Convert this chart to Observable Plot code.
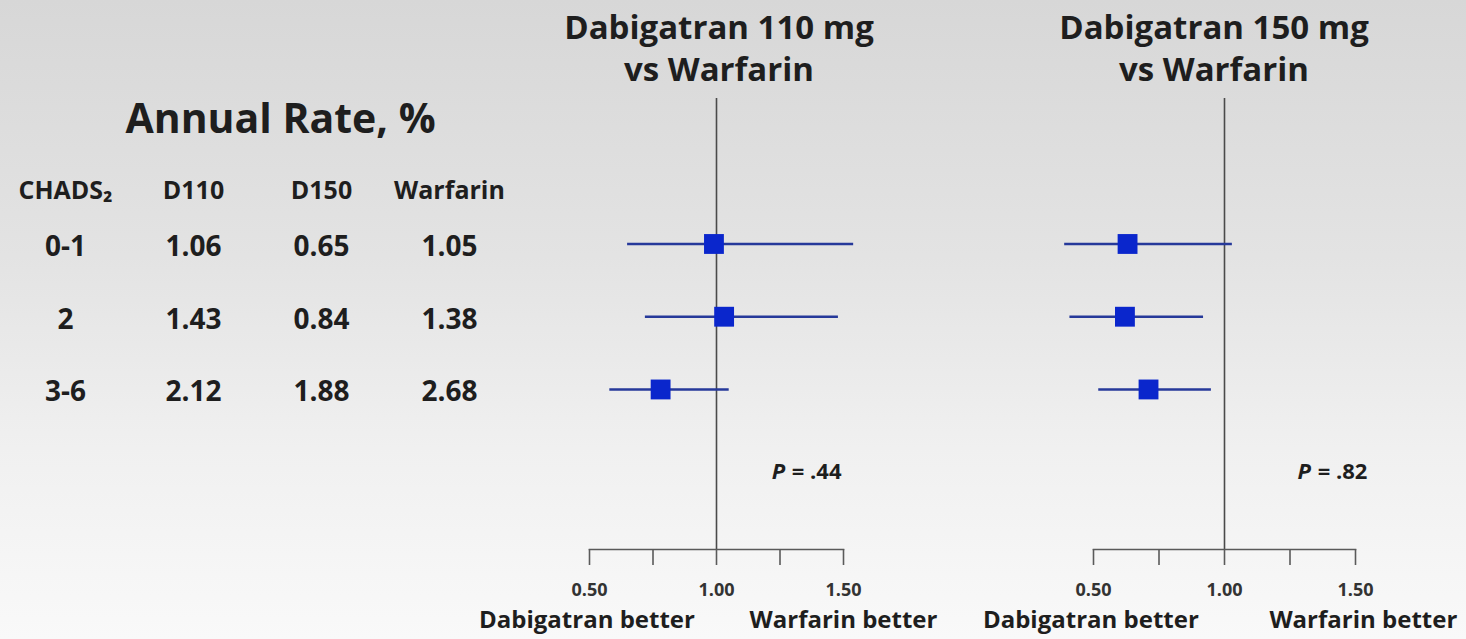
<!DOCTYPE html>
<html>
<head>
<meta charset="utf-8">
<script src="https://cdn.jsdelivr.net/npm/d3@7"></script>
<script src="https://cdn.jsdelivr.net/npm/@observablehq/plot@0.6"></script>
<style>
  html, body { margin: 0; padding: 0; }
  #page {
    position: relative; width: 1466px; height: 639px; overflow: hidden;
    background: linear-gradient(180deg, #d7d7d7 0%, #e3e3e3 40%, #f0f0f0 70%, #f9f9f9 100%);
    font-family: "Open Sans", Lato, sans-serif;
  }
  #page svg { position: absolute; top: 0; }
</style>
</head>
<body>
<div id="page"></div>
<script>
// ---- data ----
const groups = ["0-1", "2", "3-6"];
const columns = ["CHADS₂", "D110", "D150", "Warfarin"];
const rateD110 = [1.06, 1.43, 2.12];
const rateD150 = [0.65, 0.84, 1.88];
const rateWarfarin = [1.05, 1.38, 2.68];

const hr110 = [0.99, 1.03, 0.78];
const lo110 = [0.65, 0.72, 0.58];
const hi110 = [1.54, 1.48, 1.05];

const hr150 = [0.63, 0.62, 0.71];
const lo150 = [0.39, 0.41, 0.52];
const hi150 = [1.03, 0.92, 0.95];

const panelTitles = ["Dabigatran 110 mg\nvs Warfarin", "Dabigatran 150 mg\nvs Warfarin"];
const pValues = [".44", ".82"];
const xTicks = [0.5, 0.75, 1, 1.25, 1.5];
const xTickLabels = [0.5, 1, 1.5];
const sideLabels = ["Dabigatran better", "Warfarin better"];
const tableTitle = "Annual Rate, %";

// ---- shared layout ----
const H = 639, MT = 98, MB = 90;
const yCfg = {domain: [-1, 5.2], reverse: true, axis: null};
const ink = "#1e1e1e";
const font = "'Open Sans', Lato, sans-serif";
const page = document.getElementById("page");

// ---- table ----
const tableRows = [];
groups.forEach((g, i) => {
  const vals = [g, rateD110[i].toFixed(2), rateD150[i].toFixed(2), rateWarfarin[i].toFixed(2)];
  vals.forEach((v, j) => tableRows.push({row: i + 1, col: columns[j], value: v}));
});
const table = Plot.plot({
  width: 530, height: H, marginTop: MT, marginBottom: MB, marginLeft: 0, marginRight: 0,
  x: {type: "point", domain: columns, range: [65, 449], padding: 0, axis: null},
  y: yCfg,
  style: {background: "transparent", fontFamily: font, overflow: "visible"},
  marks: [
    Plot.text([tableTitle], {frameAnchor: "top-left", dx: 280, dy: 21, textAnchor: "middle",
      lineAnchor: "middle", fontSize: 41, fontWeight: "bold", fill: ink}),
    Plot.text(columns, {x: d => d, frameAnchor: "top", dy: 92, lineAnchor: "middle",
      fontSize: 25, fontWeight: "bold", fill: ink}),
    Plot.text(tableRows, {x: "col", y: "row", text: "value", dy: 3, lineAnchor: "middle",
      fontSize: 28, fontWeight: "bold", fill: ink})
  ]
});
table.style.left = "0px";
page.appendChild(table);

// ---- forest panels ----
function forest(cfg) {
  const rows = groups.map((g, i) => ({row: i + 1, est: cfg.hr[i], lo: cfg.lo[i], hi: cfg.hi[i]}));
  return Plot.plot({
    width: cfg.width, height: H, marginTop: MT, marginBottom: MB,
    marginLeft: cfg.ml, marginRight: cfg.mr,
    x: {domain: [0.5, 1.5], axis: null},
    y: yCfg,
    style: {background: "transparent", fontFamily: font, overflow: "visible"},
    marks: [
      Plot.ruleX([1], {y1: -1, y2: 5.2, stroke: "#4a4a4a", strokeWidth: 1.6}),
      Plot.frame({anchor: "bottom", stroke: "#5a5a5a", strokeWidth: 1.6}),
      Plot.axisX({ticks: xTicks, anchor: "bottom", tickSize: 16, tickFormat: () => "",
        stroke: "#5a5a5a", strokeWidth: 1.6}),
      Plot.text(xTickLabels, {x: d => d, text: d3.format(".2f"), frameAnchor: "bottom", dy: 41,
        lineAnchor: "middle", fontSize: 18, fontWeight: "bold", fill: "#333"}),
      Plot.ruleY(rows, {y: "row", x1: "lo", x2: "hi", stroke: "#26399a", strokeWidth: 2.5}),
      Plot.dot(rows, {x: "est", y: "row", symbol: "square", r: 11.2, fill: "#0a26cc"}),
      Plot.text([cfg.title], {x: cfg.titleX, frameAnchor: "top", dy: -89, lineAnchor: "top",
        lineHeight: 1.27, fontSize: 33, fontWeight: "bold", fill: ink}),
      Plot.text(["P"], {x: cfg.pX, y: cfg.pY, textAnchor: "end", lineAnchor: "middle", fontSize: 22,
        fontStyle: "italic", fontWeight: "bold", fill: ink}),
      Plot.text([" = " + cfg.p], {x: cfg.pX, y: cfg.pY, textAnchor: "start", lineAnchor: "middle",
        fontSize: 22, fontWeight: "bold", fill: ink, dx: 1}),
      Plot.text([sideLabels[0]], {x: cfg.leftLabelX, frameAnchor: "bottom", dy: 71, lineAnchor: "middle",
        fontSize: 24, fontWeight: "bold", fill: ink}),
      Plot.text([sideLabels[1]], {x: cfg.rightLabelX, frameAnchor: "bottom", dy: 71, lineAnchor: "middle",
        fontSize: 24, fontWeight: "bold", fill: ink})
    ]
  });
}

const p1 = forest({
  title: panelTitles[0], hr: hr110, lo: lo110, hi: hi110, p: pValues[0],
  width: 480, ml: 119, mr: 107, titleX: 1.01, pX: 1.27, pY: 4.14,
  leftLabelX: 0.49, rightLabelX: 1.5
});
p1.style.left = "470px";
page.appendChild(p1);

const p2 = forest({
  title: panelTitles[1], hr: hr150, lo: lo150, hi: hi150, p: pValues[1],
  width: 486, ml: 113, mr: 111, titleX: 0.96, pX: 1.33, pY: 4.14,
  leftLabelX: 0.49, rightLabelX: 1.53
});
p2.style.left = "980px";
page.appendChild(p2);
</script>
</body>
</html>
